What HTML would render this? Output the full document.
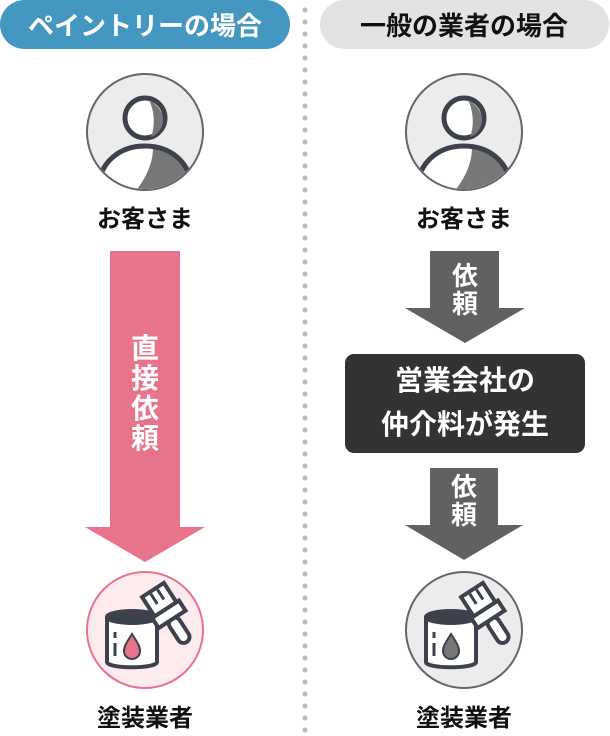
<!DOCTYPE html>
<html><head><meta charset="utf-8"><style>
body{margin:0;background:#fff;width:610px;height:736px;overflow:hidden}
svg{display:block}
text{font-family:"Liberation Sans","Noto Sans CJK JP",sans-serif;font-weight:bold}
</style></head><body>
<svg width="610" height="736" viewBox="0 0 610 736">
<defs>
<clipPath id="pc"><circle r="57"/></clipPath>
<g id="person">
<circle r="58" fill="#ececec" stroke="#666" stroke-width="2"/>
<g clip-path="url(#pc)">
<path d="M-47,60 C-47,30 -25,14 0,14 C25,14 47,30 47,60 Z" fill="#fff"/>
<path d="M8,16 C25,18 44,32 46,60 L-10,60 C2,45 8,30 8,16Z" fill="#777"/>
<path d="M-47,60 C-47,30 -25,14 0,14 C25,14 47,30 47,60" fill="none" stroke="#3c414b" stroke-width="5"/>
</g>
<circle cx="0" cy="-14" r="20" fill="#fff" stroke="#3c414b" stroke-width="5"/>
<path d="M4,-32 C12,-28 18,-20 18,-13 C18,-3 12,3 6,5 C10,-5 10,-20 4,-32Z" fill="#777"/>
</g>
<g id="paint">
<path d="M-38,-13 L-38,32 C-38,39 12,39 12,32 L12,-13" fill="#fff" stroke="#3c414b" stroke-width="4"/>
<ellipse cx="-13" cy="-13" rx="25" ry="6" fill="#3c414b" stroke="#3c414b" stroke-width="4"/>
<line x1="-30" y1="2" x2="-30" y2="8" stroke="#3c414b" stroke-width="3"/>
<line x1="-30" y1="13" x2="-30" y2="26" stroke="#3c414b" stroke-width="3"/>
<path d="M-13,4 C-8,12 -5,16 -5,21 A8,8 0 0 1 -21,21 C-21,16 -18,12 -13,4Z" fill="var(--drop)" stroke="#3c414b" stroke-width="2"/>
<g transform="translate(8,-40) rotate(-33)">
<rect x="-6" y="34" width="12" height="28" rx="6" fill="#fff" stroke="#3c414b" stroke-width="4"/>
<rect x="-13" y="0" width="26" height="24" fill="#fff" stroke="#3c414b" stroke-width="4"/>
<line x1="-4" y1="2" x2="-4" y2="14" stroke="#3c414b" stroke-width="3"/>
<line x1="4" y1="2" x2="4" y2="14" stroke="#3c414b" stroke-width="3"/>
<rect x="-16" y="23" width="32" height="12" fill="#fff" stroke="#3c414b" stroke-width="4"/>
</g>
</g>
</defs>
<rect x="0" y="0" width="290" height="49" rx="24.5" fill="#4397c1"/>
<text x="145" y="35" font-size="26" fill="#fff" text-anchor="middle">ペイントリーの場合</text>
<rect x="320" y="0" width="289" height="49" rx="24.5" fill="#e3e3e3"/>
<text x="464" y="35" font-size="26" fill="#111" text-anchor="middle">一般の業者の場合</text>
<line x1="305" y1="10" x2="305" y2="736" stroke="#bbb" stroke-width="5" stroke-linecap="round" stroke-dasharray="0 12"/>
<use href="#person" x="145" y="132"/>
<use href="#person" x="464" y="132"/>
<text x="145" y="227" font-size="24" fill="#111" text-anchor="middle">お客さま</text>
<text x="464" y="227" font-size="24" fill="#111" text-anchor="middle">お客さま</text>
<path d="M110,251 H180 V527 H205 L145,562 L85,527 H110Z" fill="#e8748c"/>
<g font-size="28" fill="#fff" text-anchor="middle">
<text x="145" y="358">直</text><text x="145" y="388">接</text><text x="145" y="418">依</text><text x="145" y="448">頼</text>
</g>
<path d="M430,251 H499 V308 H525 L465,343 L405,308 H430Z" fill="#616161"/>
<g font-size="26" fill="#fff" text-anchor="middle">
<text x="465" y="285">依</text><text x="465" y="313">頼</text>
</g>
<rect x="345" y="354" width="240" height="99" rx="9" fill="#333"/>
<text x="465" y="390" font-size="28" fill="#fff" text-anchor="middle">営業会社の</text>
<text x="465" y="434" font-size="28" fill="#fff" text-anchor="middle">仲介料が発生</text>
<path d="M430,468 H498 V525 H523 L464,560 L405,525 H430Z" fill="#616161"/>
<g font-size="26" fill="#fff" text-anchor="middle">
<text x="464" y="496">依</text><text x="464" y="524">頼</text>
</g>
<circle cx="145" cy="630" r="58" fill="#fdebee" stroke="#e8748c" stroke-width="2"/>
<use href="#paint" x="145" y="630" style="--drop:#e8748c"/>
<circle cx="464" cy="630" r="58" fill="#ececec" stroke="#666" stroke-width="2"/>
<use href="#paint" x="464" y="630" style="--drop:#777"/>
<text x="145" y="726" font-size="24" fill="#111" text-anchor="middle">塗装業者</text>
<text x="464" y="726" font-size="24" fill="#111" text-anchor="middle">塗装業者</text>
</svg>
</body></html>
